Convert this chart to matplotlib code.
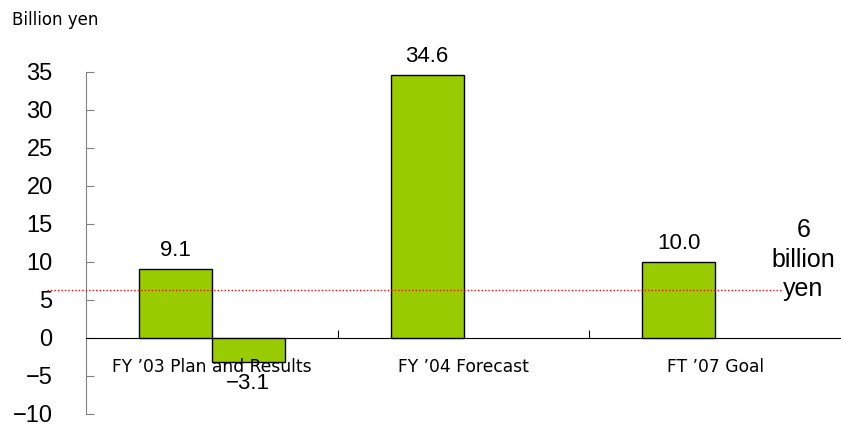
import matplotlib
matplotlib.use('Agg')
import matplotlib.pyplot as plt
import numpy as np

plt.rcParams['font.family'] = ['Liberation Sans', 'DejaVu Sans']

categories = ['FY \u201903 Plan and Results', 'FY \u201904 Forecast', 'FT \u201907 Goal']
plan_values = [9.1, 34.6, 10.0]
result_values = [-3.1, None, None]
target_value = 6.3
target_text = '6\nbillion\nyen'
yticks = [-10, -5, 0, 5, 10, 15, 20, 25, 30, 35]

bar_color = '#99CC00'
width = 0.29

fig = plt.figure(figsize=(8.41, 4.24), dpi=100)
ax = fig.add_axes([86 / 841, 1 - 414 / 424, 1 - 86 / 841, (414 - 72) / 424])

x = np.arange(len(categories))
ax.bar(x - width / 2, plan_values, width, color=bar_color, edgecolor='black', linewidth=1, zorder=3)
res_x = [xi + width / 2 for xi, v in zip(x, result_values) if v is not None]
res_v = [v for v in result_values if v is not None]
ax.bar(res_x, res_v, width, color=bar_color, edgecolor='black', linewidth=1, zorder=3)

# value labels
for xi, v in zip(x - width / 2, plan_values):
    ax.annotate('%.1f' % v, (xi, v), xytext=(0, 6), textcoords='offset points',
                ha='center', va='bottom', fontsize=16)
for xi, v in zip(res_x, res_v):
    ax.annotate('\u2212%.1f' % abs(v), (xi, v), xytext=(0, -8), textcoords='offset points',
                ha='center', va='top', fontsize=16)

# category labels
for xi, c in zip(x, categories):
    ax.text(xi, -3.8, c, ha='center', va='center', fontsize=12.3, family='DejaVu Sans', zorder=4)

# target line
ax.plot([-0.655, 2.271], [target_value, target_value], color='red', linestyle=(0, (1, 1.5)),
        linewidth=1, clip_on=False, zorder=4)
ax.text(2.351, 10.3, target_text, ha='center', va='center', fontsize=18, linespacing=1.28)

ax.set_xlim(-0.5, 2.5)
ax.set_ylim(-10, 35)
ax.set_yticks(yticks)
ax.set_yticklabels([str(t).replace('-', '\u2212') for t in yticks], fontsize=17)
ax.tick_params(axis='y', direction='in', length=6, color='#808080', pad=24)

ax.spines['bottom'].set_position(('data', 0))
ax.spines['bottom'].set_color('black')
ax.set_xticks([0.5, 1.5])
ax.set_xticklabels([])
ax.tick_params(axis='x', direction='in', length=6, color='black')
ax.spines['top'].set_visible(False)
ax.spines['right'].set_visible(False)
ax.spines['left'].set_color('#808080')
ax.patch.set_alpha(0)

fig.text(12 / 841, 1 - 20 / 424, 'Billion yen', fontsize=12, family='DejaVu Sans',
         ha='left', va='center')

fig.savefig('out.png', dpi=100)
